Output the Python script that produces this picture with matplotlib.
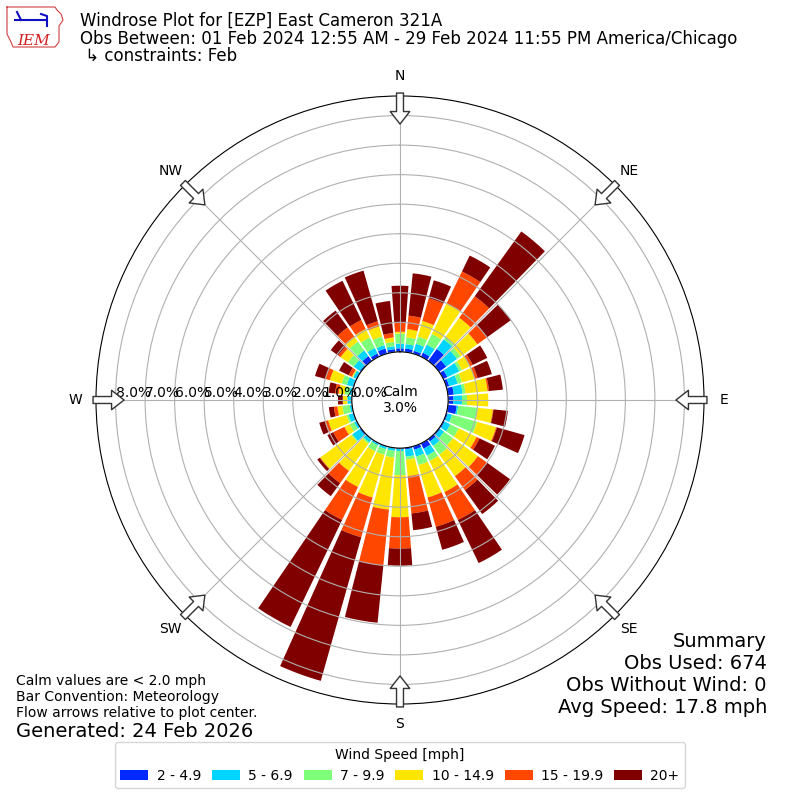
import numpy as np
import matplotlib
matplotlib.use("Agg")
import matplotlib.pyplot as plt

# Wind direction sectors (deg, met convention) and speed bins
directions = np.arange(0, 360, 10)
bin_labels = ["2 - 4.9", "5 - 6.9", "7 - 9.9", "10 - 14.9", "15 - 19.9", "20+"]

# Percent of obs per sector for each speed bin
spd_2_5 = [0.12, 0.12, 0.10, 0.15, 0.50, 0.30, 0.15, 0.10, 0.20, 0.18, 0.30, 0.05,
           0.05, 0.05, 0.10, 0.20, 0.12, 0.05, 0.03, 0.02, 0.02, 0.02, 0.03, 0.05,
           0.02, 0.03, 0.02, 0.02, 0.02, 0.03, 0.03, 0.05, 0.20, 0.12, 0.18, 0.10]
spd_5_7 = [0.16, 0.15, 0.25, 0.30, 0.40, 0.45, 0.45, 0.30, 0.30, 0.29, 0.05, 0.15,
           0.21, 0.16, 0.19, 0.26, 0.24, 0.25, 0.07, 0.08, 0.08, 0.06, 0.11, 0.31,
           0.08, 0.15, 0.06, 0.13, 0.08, 0.21, 0.10, 0.25, 0.24, 0.21, 0.12, 0.10]
spd_7_10 = [0.34, 0.23, 0.25, 0.40, 0.10, 0.15, 0.10, 0.15, 0.10, 0.17, 0.67, 0.88,
            0.32, 0.37, 0.36, 0.20, 0.30, 0.10, 0.82, 0.23, 0.20, 0.22, 0.06, 0.04,
            0.16, 0.07, 0.25, 0.01, 0.15, 0.18, 0.02, 0.25, 0.37, 0.39, 0.30, 0.15]
spd_10_15 = [0.06, 0.28, 0.55, 1.15, 0.80, 0.70, 0.30, 0.45, 0.75, 0.72, 0.51, 0.67,
             0.67, 1.04, 0.90, 1.17, 1.14, 0.56, 1.42, 1.77, 1.50, 1.34, 1.13, 1.30,
             0.20, 0.65, 0.17, 0.14, 0.20, 0.42, 0.03, 0.30, 0.21, 0.32, 0.36, 0.15]
spd_15_20 = [0.30, 0.46, 0.80, 1.20, 0.90, 0.40, 0.10, 0.10, 0.05, 0.00, 0.02, 0.03,
             0.11, 0.38, 0.58, 1.05, 1.03, 1.27, 1.06, 1.90, 1.40, 1.24, 0.51, 0.02,
             0.42, 0.12, 0.12, 0.01, 0.13, 0.16, 0.12, 0.10, 0.38, 0.34, 0.18, 0.15]
spd_20p = [1.26, 1.44, 0.63, 0.60, 2.70, 1.00, 0.55, 0.50, 0.47, 0.00, 0.49, 0.97,
           0.58, 0.96, 1.00, 1.62, 0.81, 0.57, 0.58, 1.95, 5.05, 4.02, 0.54, 0.10,
           0.22, 0.19, 0.17, 0.16, 0.22, 0.36, 0.36, 0.31, 0.70, 1.47, 1.78, 1.09]

calm_pct = 3.0
rings = np.arange(0, 9)

fig = plt.figure(figsize=(8, 8), dpi=100)
ax = fig.add_axes([0.12, 0.12, 0.76, 0.76], projection="polar")
ax.set_theta_zero_location("N")
ax.set_theta_direction(-1)

colors = plt.cm.jet(np.linspace(0, 1, 7))[1:]
theta = np.deg2rad(directions)
bottom = np.zeros(len(directions))
for vals, color, label in zip([spd_2_5, spd_5_7, spd_7_10, spd_10_15, spd_15_20, spd_20p],
                              colors, bin_labels):
    vals = np.array(vals)
    ax.bar(theta, vals, width=np.deg2rad(8.5), bottom=bottom, color=color,
           label=label, linewidth=0)
    bottom += vals

ax.set_rorigin(-1.63)
ax.set_ylim(0, bottom.max() * 1.05)

ax.set_xticks(np.deg2rad(np.arange(0, 360, 45)))
ax.set_xticklabels(["N", "NE", "E", "SE", "S", "SW", "W", "NW"])
ax.tick_params(axis="x", pad=4, labelsize=10)
ax.set_yticks(rings)
ax.set_yticklabels(["{:.1f}%".format(r) for r in rings], fontsize=10)
ax.set_rlabel_position(270)

# Calm percentage in the middle
ax.text(0.5, 0.5, "Calm\n{:.1f}%".format(calm_pct), transform=ax.transAxes,
        ha="center", va="center", fontsize=10)

# Flow arrows at the edge
rmax = ax.get_ylim()[1]
for d in range(0, 360, 45):
    t = np.deg2rad(d)
    ax.annotate("", xy=(t, rmax - 0.95), xytext=(t, rmax + 0.1),
                arrowprops=dict(arrowstyle="simple,head_length=0.45,head_width=0.7,tail_width=0.25",
                                fc="white", ec="#333333", lw=1, shrinkA=0, shrinkB=0,
                                mutation_scale=20),
                annotation_clip=False)

# Title lines
fig.text(0.1, 1 - 26 / 800, "Windrose Plot for [EZP] East Cameron 321A", fontsize=12, va="baseline")
fig.text(0.1, 1 - 44 / 800, "Obs Between: 01 Feb 2024 12:55 AM - 29 Feb 2024 11:55 PM America/Chicago",
         fontsize=12, va="baseline")
fig.text(0.1, 1 - 61 / 800, " \u21b3 constraints: Feb", fontsize=12, va="baseline")

# Little IEM logo
lax = fig.add_axes([5 / 800, 1 - 50 / 800, 60 / 800, 45 / 800])
lax.set_xlim(0, 60)
lax.set_ylim(0, 45)
lax.axis("off")
lax.plot([2, 50, 52, 56, 58, 54, 54, 50, 8, 6, 2, 2],
         [43, 43, 40, 36, 30, 24, 8, 3, 3, 8, 16, 43], color="#d04040", lw=0.8)
lax.plot([10, 40], [30, 30], color="#1010c0", lw=1.5)
lax.plot([12, 14, 16], [38, 34, 30], color="#1010c0", lw=1.5)
lax.plot([36, 42, 42], [36, 34, 24], color="#1010c0", lw=1.5)
lax.text(12, 5, "IEM", color="#d02020", fontsize=11, family="DejaVu Serif", style="italic")

# Footer text
fig.text(16 / 800, 1 - 685 / 800, "Calm values are < 2.0 mph", fontsize=10, va="baseline")
fig.text(16 / 800, 1 - 701 / 800, "Bar Convention: Meteorology", fontsize=10, va="baseline")
fig.text(16 / 800, 1 - 717 / 800, "Flow arrows relative to plot center.", fontsize=10, va="baseline")
fig.text(16 / 800, 1 - 737 / 800, "Generated: 24 Feb 2026", fontsize=14, va="baseline")

summary = ["Summary", "Obs Used: 674", "Obs Without Wind: 0", "Avg Speed: 17.8 mph"]
for i, line in enumerate(summary):
    fig.text(767 / 800, 1 - (647 + 22 * i) / 800, line, fontsize=14, ha="right", va="baseline")

fig.legend(loc="lower center", bbox_to_anchor=(0.5, 0.006), ncol=6,
           title="Wind Speed [mph]", fontsize=10, title_fontsize=10,
           handletextpad=0.6, columnspacing=0.8)

fig.savefig("out.png", dpi=100)
